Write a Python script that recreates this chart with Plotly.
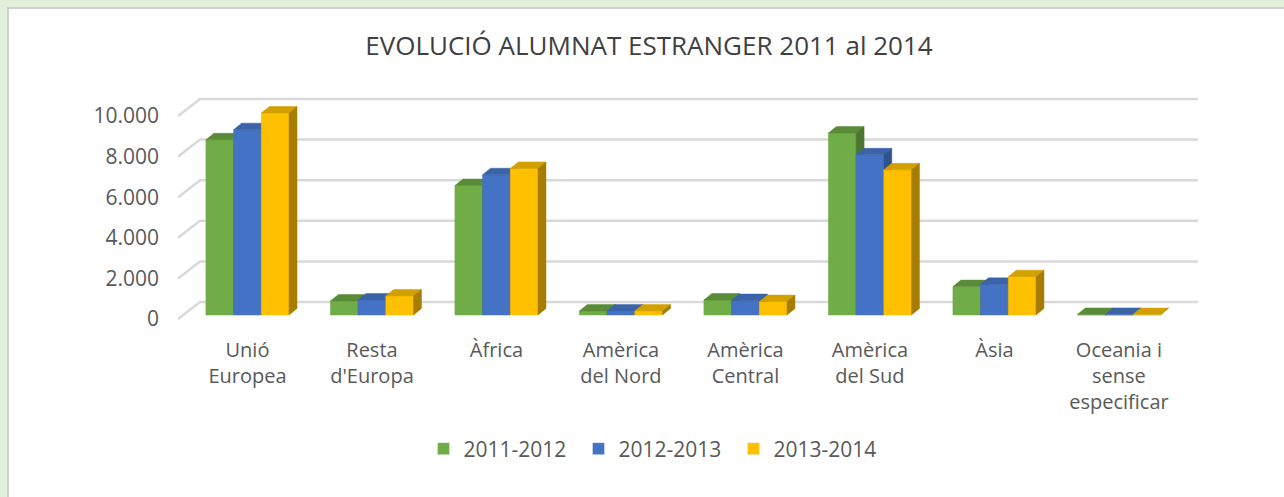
import plotly.graph_objects as go

categories = ["Unió<br>Europea", "Resta<br>d'Europa", "Àfrica", "Amèrica<br>del Nord",
              "Amèrica<br>Central", "Amèrica<br>del Sud", "Àsia", "Oceania i<br>sense<br>especificar"]
series_names = ["2011-2012", "2012-2013", "2013-2014"]
v_2011_2012 = [8630, 690, 6380, 200, 740, 8960, 1400, 30]
v_2012_2013 = [9130, 740, 6910, 200, 710, 7890, 1510, 30]
v_2013_2014 = [9950, 940, 7220, 200, 660, 7150, 1890, 20]
y_ticks = [0, 2000, 4000, 6000, 8000, 10000]

series_values = [v_2011_2012, v_2012_2013, v_2013_2014]
front_colors = ["#70AD47", "#4472C4", "#FFC000"]
top_colors = ["#5A8B39", "#3A63A8", "#D2A000"]
side_colors = ["#4B7530", "#2F528F", "#A67D00"]

# geometry (category units / value units)
W, H = 1284, 497
ML, MR, MT, MB = 178, 86, 90, 177
x_range = [-0.558, 7.635]
y_range = [-246, 11084]
bar_w = 0.2225
depth_dx, depth_dy = 0.064, 320          # bar depth
wall_dx, wall_dy = 0.177, 640            # back wall offset
diag_dy = -200                           # front start of the left diagonals

fig = go.Figure()

# back wall gridlines + left diagonals
gx, gy = [], []
for v in y_ticks:
    gx += [x_range[0], x_range[0] + wall_dx, x_range[1], None]
    gy += [v + diag_dy, v + wall_dy, v + wall_dy, None]
fig.add_trace(go.Scatter(x=gx, y=gy, mode="lines", line=dict(color="#D9D9D9", width=2.5),
                         hoverinfo="skip", showlegend=False))

n = len(categories)
for k, vals in enumerate(series_values):
    off = (k - 1) * bar_w
    fx, fy, tx, ty, sx, sy = [], [], [], [], [], []
    for i in range(n):
        v = vals[i]
        x0 = i + off - bar_w / 2
        x1 = x0 + bar_w
        fx += [x0, x1, x1, x0, x0, None]
        fy += [0, 0, v, v, 0, None]
        tx += [x0, x0 + depth_dx, x1 + depth_dx, x1, x0, None]
        ty += [v, v + depth_dy, v + depth_dy, v, v, None]
        sx += [x1, x1 + depth_dx, x1 + depth_dx, x1, x1, None]
        sy += [0, depth_dy, v + depth_dy, v, 0, None]
    for xs, ys, col in ((fx, fy, front_colors[k]), (tx, ty, top_colors[k]), (sx, sy, side_colors[k])):
        fig.add_trace(go.Scatter(x=xs, y=ys, mode="lines", fill="toself", fillcolor=col,
                                 line=dict(color=col, width=0.5), hoverinfo="skip", showlegend=False))

# legend entries
for k, name in enumerate(series_names):
    fig.add_trace(go.Bar(x=[None], y=[None], name=name, marker_color=front_colors[k]))

# white panel with grey edge over the light green surround
def px_x(p):
    return (p - ML) / (W - ML - MR)

def px_y(p):
    return (H - MB - p) / (H - MT - MB)

fig.add_shape(type="rect", xref="paper", yref="paper", layer="below",
              x0=px_x(8), x1=px_x(1320), y0=px_y(8), y1=px_y(520),
              fillcolor="white", line=dict(color="#D0D0D0", width=2))

fig.update_layout(
    width=W, height=H,
    margin=dict(l=ML, r=MR, t=MT, b=MB, pad=0),
    paper_bgcolor="#E2EFDA",
    plot_bgcolor="rgba(0,0,0,0)",
    barmode="overlay",
    title=dict(text="EVOLUCIÓ ALUMNAT ESTRANGER 2011 al 2014", xref="container", x=649 / W,
               xanchor="center", yref="container", y=1 - 46 / H, yanchor="middle",
               font=dict(family="Open Sans", size=26, color="#404040")),
    xaxis=dict(range=x_range, tickmode="array", tickvals=list(range(n)), ticktext=categories,
               showgrid=False, zeroline=False, showline=False, ticks="",
               ticklabelstandoff=16,
               tickfont=dict(family="Open Sans", size=20, color="#595959")),
    yaxis=dict(range=y_range, tickmode="array", tickvals=[v + diag_dy for v in y_ticks],
               ticktext=[f"{v:,}".replace(",", ".") for v in y_ticks],
               showgrid=False, zeroline=False, showline=False, ticks="",
               ticklabelstandoff=18,
               tickfont=dict(family="Open Sans", size=21, color="#595959")),
    legend=dict(orientation="h", x=px_x(656), xanchor="center", y=px_y(449), yanchor="middle",
                font=dict(family="Open Sans", size=21, color="#595959"),
                entrywidth=110, entrywidthmode="pixels",
                bgcolor="rgba(0,0,0,0)"),
    showlegend=True,
)

fig.write_html("out.html", config={"displayModeBar": False},
               post_script="document.body.style.margin='0';")
